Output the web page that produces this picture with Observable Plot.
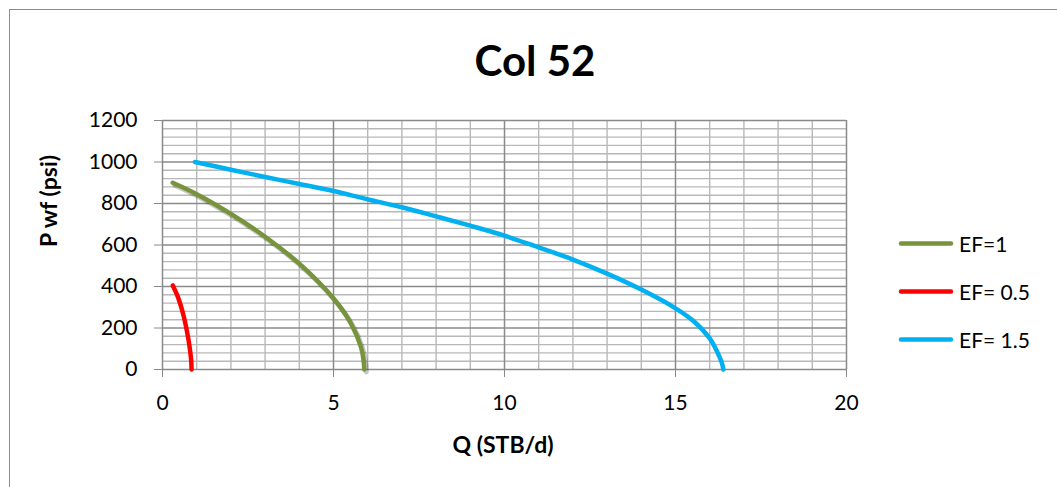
<!DOCTYPE html>
<html>
<head>
<meta charset="utf-8">
<script src="https://cdn.jsdelivr.net/npm/d3@7"></script>
<script src="https://cdn.jsdelivr.net/npm/@observablehq/plot@0.6"></script>
<style>
  html, body { margin: 0; padding: 0; background: #fff; overflow: hidden; }
  #wrap { position: relative; width: 1057px; height: 487px; font-family: Lato, "Open Sans", sans-serif; }
  #frame { position: absolute; left: 9px; top: 9px; width: 1100px; height: 600px; border-left: 1.5px solid #8c8c8c; border-top: 1.5px solid #8c8c8c; }
  #chart { position: absolute; left: 0; top: 0; }
  .title { position: absolute; left: 535px; top: 60px; transform: translate(-50%, -50%); font-weight: bold; font-size: 42px; white-space: nowrap; }
  .ylab { position: absolute; left: 48px; top: 201px; transform: translate(-50%, -50%) rotate(-90deg); font-weight: bold; font-size: 23px; white-space: nowrap; }
  .xlab { position: absolute; left: 503px; top: 444px; transform: translate(-50%, -50%); font-weight: bold; font-size: 23px; white-space: nowrap; }
  .legend { position: absolute; left: 898px; top: 0; }
  .item { position: absolute; left: 0; display: flex; align-items: center; white-space: nowrap; font-size: 21px; transform: translateY(-50%); }
  .item svg { margin-right: 5px; }
</style>
</head>
<body>
<div id="wrap">
  <div id="frame"></div>
  <div id="chart"></div>
  <div class="title">Col 52</div>
  <div class="ylab">P wf (psi)</div>
  <div class="xlab">Q (STB/d)</div>
  <div class="legend" id="legend"></div>
</div>
<script>
// ---- data ----
const seriesNames = ["EF=1", "EF= 0.5", "EF= 1.5"];
const seriesColors = ["#77933C", "#FF0000", "#00B0F0"];

const qEF1  = [0.3, 1, 2, 3, 4, 5, 5.5, 5.8, 5.88, 5.9];
const pEF1  = [900, 845, 750, 640, 510, 342, 225, 110, 45, 0];

const qEF05 = [0.3, 0.45, 0.6, 0.72, 0.8, 0.84, 0.85];
const pEF05 = [405, 350, 270, 180, 100, 40, 0];

const qEF15 = [0.95, 2, 3, 4, 5, 6, 7, 8, 9, 10, 11, 12, 13, 14, 15, 15.5, 16, 16.2, 16.35, 16.4];
const pEF15 = [1000, 963, 928, 894, 860, 820, 782, 738, 693, 645, 588, 530, 462, 385, 295, 237, 150, 92, 35, 0];

const xTicks = [0, 5, 10, 15, 20];
const yTicks = [0, 200, 400, 600, 800, 1000, 1200];
const xMinor = [1, 2, 3, 4, 6, 7, 8, 9, 11, 12, 13, 14, 16, 17, 18, 19];
const yMinor = [40, 80, 120, 160, 240, 280, 320, 360, 440, 480, 520, 560, 640, 680, 720, 760,
                840, 880, 920, 960, 1040, 1080, 1120, 1160];

// ---- build ----
const toRows = (qs, ps, name) => qs.map((q, i) => ({q, p: ps[i], name}));
const rows1 = toRows(qEF1, pEF1, seriesNames[0]);
const rows05 = toRows(qEF05, pEF05, seriesNames[1]);
const rows15 = toRows(qEF15, pEF15, seriesNames[2]);

const chart = Plot.plot({
  width: 1057,
  height: 487,
  marginLeft: 162,
  marginRight: 211,
  marginTop: 120,
  marginBottom: 118,
  x: {domain: [0, 20]},
  y: {domain: [0, 1200]},
  style: {fontFamily: "Lato, 'Open Sans', sans-serif", fontSize: "21px", color: "#000", background: "transparent"},
  marks: [
    Plot.ruleX(xMinor, {stroke: "#b8b8b8", strokeWidth: 1.4}),
    Plot.ruleY(yMinor, {stroke: "#b8b8b8", strokeWidth: 1.4}),
    Plot.ruleX(xTicks, {stroke: "#8a8a8a", strokeWidth: 1.5}),
    Plot.ruleY(yTicks, {stroke: "#8a8a8a", strokeWidth: 1.5}),
    Plot.axisX({ticks: xTicks, tickSize: 8, tickPadding: 18, stroke: "#8a8a8a", label: null, tickFormat: d => String(d)}),
    Plot.axisY({ticks: yTicks, tickSize: 8, tickPadding: 17, stroke: "#8a8a8a", label: null, tickFormat: d => String(d)}),
    Plot.line(rows1, {x: "q", y: "p", stroke: "#000", strokeOpacity: 0.22, strokeWidth: 5, dx: 2, dy: 2.5, curve: "catmull-rom"}),
    Plot.line(rows1, {x: "q", y: "p", stroke: seriesColors[0], strokeWidth: 4.5, curve: "catmull-rom"}),
    Plot.line(rows05, {x: "q", y: "p", stroke: seriesColors[1], strokeWidth: 4.5, curve: "catmull-rom"}),
    Plot.line(rows15, {x: "q", y: "p", stroke: seriesColors[2], strokeWidth: 4.5, curve: "catmull-rom"})
  ]
});
document.getElementById("chart").appendChild(chart);

// legend
const legend = document.getElementById("legend");
const legendY = [243, 291, 339];
seriesNames.forEach((name, i) => {
  const div = document.createElement("div");
  div.className = "item";
  div.style.top = legendY[i] + "px";
  div.innerHTML = `<svg width="56" height="8"><line x1="3" y1="4" x2="53" y2="4" stroke="${seriesColors[i]}" stroke-width="4.5" stroke-linecap="round"/></svg><span>${name}</span>`;
  legend.appendChild(div);
});
</script>
</body>
</html>
